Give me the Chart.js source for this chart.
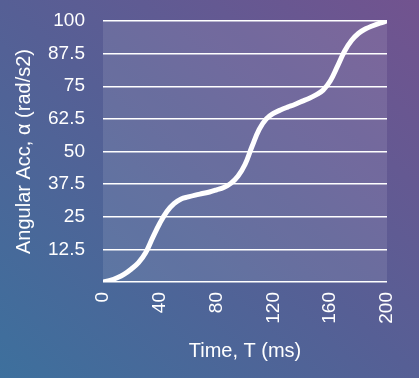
<!DOCTYPE html>
<html>
<head>
<meta charset="utf-8">
<script src="https://cdn.jsdelivr.net/npm/chart.js@4"></script>
<style>
  html, body { margin: 0; padding: 0; }
  body {
    width: 419px; height: 378px; overflow: hidden;
    background: linear-gradient(to top right, #3d709d 0%, #565f95 50%, #72538f 100%);
  }
  #wrap { width: 419px; height: 378px; position: relative; }
</style>
</head>
<body>
<div id="wrap"><canvas id="c" width="419" height="378"></canvas></div>
<script>
const timeMs = [0, 5, 10, 15, 20, 25, 30, 35, 40, 45, 50, 55, 60, 65, 70, 75, 80, 85, 90, 95, 100,
  105, 110, 115, 120, 125, 130, 135, 140, 145, 150, 155, 160, 165, 170, 175, 180, 185, 190, 195, 200];
const angularAcc = [0, 0.6, 1.6, 3, 5, 7.4, 11.2, 17, 22.5, 27, 30, 31.8, 32.6, 33.3, 33.9, 34.5, 35.3, 36.2, 37.8, 40.5, 45,
  52, 58.5, 62.5, 64.6, 65.9, 67, 68, 69.2, 70.3, 71.7, 73.5, 77, 82.5, 88.3, 92.5, 95.3, 97, 98.2, 99.2, 100];
const xTicks = [0, 40, 80, 120, 160, 200];
const yTicks = [0, 12.5, 25, 37.5, 50, 62.5, 75, 87.5, 100];
const xTitle = 'Time, T (ms)';
const yTitle = 'Angular Acc, α (rad/s2)';

const plotBg = {
  id: 'plotBg',
  beforeDraw(chart) {
    const {ctx, chartArea: a} = chart;
    ctx.save();
    ctx.fillStyle = 'rgba(255,255,255,0.1)';
    ctx.fillRect(a.left, a.top, a.right - a.left, a.bottom - a.top);
    ctx.restore();
  }
};

const FONT = "'Liberation Sans', Arial, sans-serif";

new Chart(document.getElementById('c'), {
  type: 'line',
  data: {
    datasets: [{
      data: timeMs.map((t, i) => ({x: t, y: angularAcc[i]})),
      borderColor: '#ffffff',
      borderWidth: 5,
      pointRadius: 0,
      tension: 0.4,
      fill: false
    }]
  },
  options: {
    responsive: false,
    animation: false,
    devicePixelRatio: 1,
    layout: { padding: { top: 21, right: 32, left: 0, bottom: 0 } },
    plugins: { legend: { display: false }, tooltip: { enabled: false } },
    scales: {
      x: {
        type: 'linear',
        min: 0, max: 200,
        afterBuildTicks(s) { s.ticks = xTicks.map(v => ({value: v})); },
        afterFit(s) { s.height = 96; s.paddingLeft = 0; s.paddingRight = 0; },
        grid: { display: false, drawTicks: false },
        border: { display: false },
        ticks: {
          color: '#ffffff',
          font: { family: FONT, size: 19 },
          minRotation: 90, maxRotation: 90,
          padding: 10,
          autoSkip: false
        },
        title: {
          display: true,
          text: xTitle,
          color: '#ffffff',
          font: { family: FONT, size: 20 },
          padding: { top: 0, bottom: 15 }
        }
      },
      y: {
        type: 'linear',
        min: 0, max: 100,
        afterBuildTicks(s) { s.ticks = yTicks.map(v => ({value: v})); },
        afterFit(s) { s.width = 103; s.paddingTop = 0; s.paddingBottom = 0; },
        grid: { color: '#ffffff', lineWidth: 1.5, drawTicks: false },
        border: { display: false },
        ticks: {
          color: '#ffffff',
          font: { family: FONT, size: 19 },
          padding: 18,
          callback: v => v === 0 ? '' : String(v)
        },
        title: {
          display: true,
          text: yTitle,
          color: '#ffffff',
          font: { family: FONT, size: 20 },
          padding: { top: 12, bottom: 0 }
        }
      }
    }
  },
  plugins: [plotBg]
});
</script>
</body>
</html>
